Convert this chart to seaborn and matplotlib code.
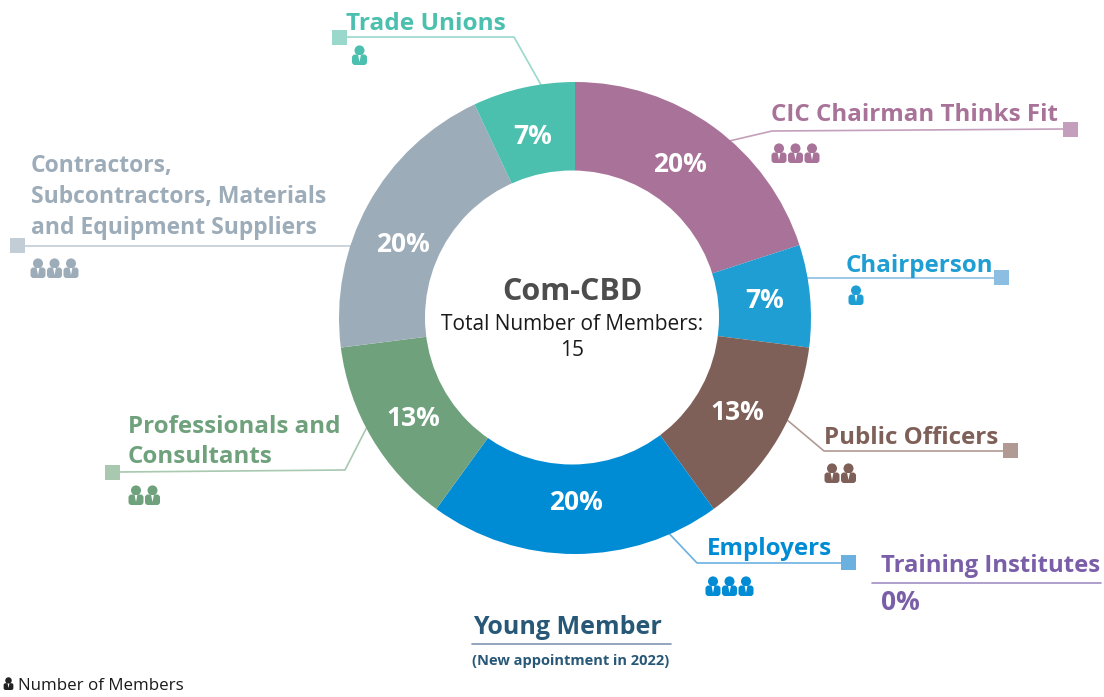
import matplotlib
matplotlib.use('Agg')
import matplotlib.pyplot as plt
from matplotlib.patches import Circle, FancyBboxPatch, Polygon, Rectangle
import seaborn as sns

# ========== data ==========
categories = ['CIC Chairman Thinks Fit', 'Chairperson', 'Public Officers', 'Employers',
              'Professionals and\nConsultants',
              'Contractors,\nSubcontractors, Materials\nand Equipment Suppliers', 'Trade Unions']
percent = [20, 7, 13, 20, 13, 20, 7]
members = [3, 1, 2, 3, 2, 3, 1]
colors = ['#A97399', '#1F9ED3', '#7F6058', '#008BD5', '#6FA27C', '#9DACB9', '#4BC0AE']
light_colors = ['#C49FBB', '#8BBEE0', '#B09A93', '#6CB0E0', '#A8C8AF', '#C3CDD6', '#9AD8CC']

# ========== layout (pixels of the picture) ==========
W, H = 1104, 697
CX, CY, R = 575, 318, 236
HOLE_X, HOLE_Y, HOLE_R = 572, 317.5, 147
label_xy = [(771, 115), (846, 266), (824, 438), (707, 549), (128, 442), (31, 197), (346, 24)]
label_size = [17.4, 17.4, 17.4, 17.4, 17.4, 16.5, 17.6]
label_space = [1.3, 1.3, 1.3, 1.3, 1.36, 1.4, 1.3]
pct_xy = [(680, 164), (765, 300), (737, 413), (576, 503), (413, 419), (403, 244), (533, 137)]
leaders = [
    [(725, 142), (772, 131), (1064, 129)],
    [(800, 278), (995, 278)],
    [(780, 414), (824, 451), (1004, 451)],
    [(662, 526), (697, 563), (842, 563)],
    [(368, 425), (345, 470), (119, 472)],
    [(360, 246), (24, 246)],
    [(545, 92), (514, 37), (346, 37)],
]
squares = [(1063, 122), (994, 270), (1003, 443), (841, 555), (105, 465), (10, 238), (332, 30)]
icons = [(779, 143), (856, 285), (832, 463), (713, 576), (136, 485), (38, 258), (359.5, 45)]
ICON_STEP = 16.5

sns.set_theme(style='white')
plt.rcParams['font.family'] = ['Open Sans', 'DejaVu Sans']

fig = plt.figure(figsize=(W / 100, H / 100), dpi=100)
ax = fig.add_axes([0, 0, 1, 1])


def person(x, top, color, scale=1.0):
    # head, shoulders and a small white collar
    ax.add_patch(Circle((x, top + 5.4 * scale), 5 * scale, fc=color, ec='none', zorder=4))
    ax.add_patch(FancyBboxPatch((x - 4.5 * scale, top + 12.5 * scale), 9 * scale, 4.5 * scale,
                                boxstyle=f'round,pad={3 * scale}', fc=color, ec='none', zorder=4))
    ax.add_patch(Polygon([(x - 1.4 * scale, top + 10 * scale), (x + 1.4 * scale, top + 10 * scale),
                          (x, top + 17 * scale)], fc='white', ec='none', zorder=5))


# y axis points down, so the ring starts at 270 to run clockwise from the top
wedges, _, pcts = ax.pie(percent, colors=sns.color_palette(colors), center=(CX, CY), radius=R,
                         startangle=270, counterclock=True, frame=True,
                         wedgeprops=dict(width=R - HOLE_R + 8, linewidth=0),
                         autopct='%.0f%%', pctdistance=0.81,
                         textprops=dict(color='white', fontsize=19, fontweight='bold', zorder=6))
for txt, xy in zip(pcts, pct_xy):
    txt.set_position(xy)
ax.add_patch(Circle((HOLE_X, HOLE_Y), HOLE_R, fc='white', ec='none', zorder=2))
ax.set_xlim(0, W)
ax.set_ylim(H, 0)
ax.set_aspect('equal')
ax.axis('off')

for i, name in enumerate(categories):
    xy, line, sq, ic = label_xy[i], leaders[i], squares[i], icons[i]
    ax.text(xy[0], xy[1], name, color=colors[i], fontsize=label_size[i], fontweight='bold',
            ha='left', va='center', linespacing=label_space[i])
    ax.plot([p[0] for p in line], [p[1] for p in line], color=light_colors[i], lw=1.2, zorder=0.5,
            solid_capstyle='butt')
    ax.add_patch(Rectangle(sq, 15, 15, fc=light_colors[i], ec='none', zorder=3))
    for k in range(members[i]):
        person(ic[0] + k * ICON_STEP, ic[1], colors[i])

# centre of the ring
ax.text(572, 292, 'Com-CBD', color='#4D4D4D', fontsize=22, fontweight='bold', ha='center', va='center', zorder=6)
ax.text(572, 325, 'Total Number of Members:', color='#1A1A1A', fontsize=15, ha='center', va='center', zorder=6)
ax.text(572, 350, '15', color='#1A1A1A', fontsize=15, ha='center', va='center', zorder=6)

# categories with no slice
ax.text(881, 566, 'Training Institutes', color='#7A5EA8', fontsize=17.2, fontweight='bold', ha='left', va='center')
ax.plot([872, 1101], [583, 583], color='#A18DC4', lw=1.2)
ax.text(881, 602, '0%', color='#7A5EA8', fontsize=19, fontweight='bold', ha='left', va='center')

ax.text(473, 627, 'Young Member', color='#285878', fontsize=18, fontweight='bold', ha='left', va='center')
ax.plot([472, 671], [644, 644], color='#7F96B2', lw=1.2)
ax.text(472, 661, '(New appointment in 2022)', color='#285878', fontsize=10.5, fontweight='bold', ha='left', va='center')

# footer key
person(8.5, 677, '#222222', scale=0.65)
ax.text(18, 686, 'Number of Members', color='#1A1A1A', fontsize=12.2, ha='left', va='center')

fig.savefig('out.png', dpi=100)
